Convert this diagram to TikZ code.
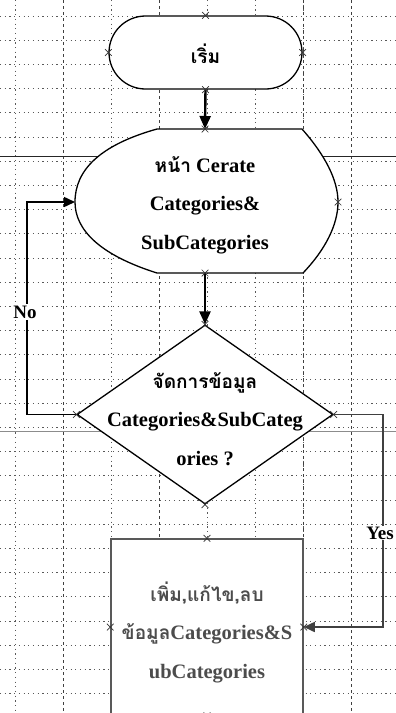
\documentclass[tikz,border=0pt]{standalone}
\usepackage{fontspec}
\setmainfont{Liberation Serif}
\newfontfamily\thaifont[Script=Thai,Scale=0.93]{Loma}
\usetikzlibrary{arrows.meta,shapes.geometric,shapes.misc}
\begin{document}
\begin{tikzpicture}[x=1pt,y=-1pt,
  txt/.style={font=\bfseries\fontsize{20.5}{38.5}\selectfont, align=center, inner sep=0pt},
  shapeline/.style={draw=black, line width=1.3pt},
  greyline/.style={draw=black!65, line width=1.5pt},
  xmark/.style={cross out, draw=black!80, minimum size=6pt, inner sep=0pt, line width=0.7pt},
  gridline/.style={black!65, line width=0.7pt, dash pattern=on 1.2pt off 3.5pt},
  majorgrid/.style={black!75, line width=0.8pt, dash pattern=on 3pt off 3pt},
  thickarrow/.style={line width=2.4pt, -{Triangle[length=13pt,width=11pt]}},
  looparrow/.style={line width=1.5pt, -{Triangle[length=11pt,width=10pt]}},
  lbl/.style={font=\bfseries\fontsize{19}{22}\selectfont, fill=white, inner sep=2pt}
]
\useasboundingbox (0,0) rectangle (396,713);
\clip (0,0) rectangle (396,713);
\fill[white] (0,0) rectangle (396,713);
% grid
\foreach \k in {0,2,4,5,6,8} {
  \draw[gridline] (15+48.1*\k,0) -- (15+48.1*\k,713);
}
\foreach \k in {1,3,6,7} {
  \draw[majorgrid] (15+48.1*\k,0) -- (15+48.1*\k,713);
}
\foreach \k in {0,...,29} {
  \draw[gridline] (0,16+24.2*\k) -- (396,16+24.2*\k);
}
% page break lines
\draw[black!85, line width=0.8pt] (0,156) -- (396,156);
\draw[black!45, line width=1pt] (0,431) -- (396,431);

% start terminator
\node[rounded rectangle, shapeline, fill=white, minimum width=193pt, minimum height=73pt, inner sep=0pt] (start) at (205.5,52.5) {};
\node[txt] (starttxt) at (205.5,54) {{\thaifont\bfseries เริ่ม}};

% display shape
\coordinate (dispT) at (205,129);
\coordinate (dispB) at (205,273);
\coordinate (dispL) at (75,202);
\coordinate (dispR) at (338,202);
\draw[shapeline, fill=white] (157,129) -- (302,129)
  .. controls (325,155) and (338,180) .. (dispR)
  .. controls (338,225) and (325,250) .. (303,273)
  -- (157,273)
  .. controls (100,255) and (75,230) .. (dispL)
  .. controls (75,170) and (100,145) .. (157,129) -- cycle;
\node[txt] (disptxt) at (205,205) {{\thaifont\bfseries หน้า} Cerate\\Categories\&\\SubCategories};

% decision
\node[diamond, shapeline, fill=white, minimum width=256pt, minimum height=179pt, inner sep=0pt] (dia) at (205,414.5) {};
\node[txt] (diatxt) at (205,419) {{\thaifont\bfseries จัดการข้อมูล}\\Categories\&SubCateg\\ories ?};

% process box
\node[rectangle, greyline, fill=white, minimum width=192pt, minimum height=176pt, inner sep=0pt] (box) at (207,627) {};
\node[txt, text=black!70] (boxtxt) at (207,632) {{\thaifont\bfseries เพิ่ม,แก้ไข,ลบ}\\{\thaifont\bfseries ข้อมูล}Categories\&S\\ubCategories};

% connectors
\draw[thickarrow] (start.south) -- (dispT);
\draw[thickarrow] (dispB) -- (dia.north);

\coordinate (noBend) at (27,414.5);
\draw[looparrow] (dia.west) -- (noBend) |- (dispL);
\node[lbl] (nolbl) at (25,312) {No};

\coordinate (yesBend) at (383,414.5);
\coordinate (yesBend2) at (383,627);
\draw[looparrow, black!75] (dia.east) -- (yesBend) -- (yesBend2) -- (box.east);
\node[lbl, anchor=east, inner sep=1pt] (yeslbl) at (395,533) {Yes};

% connection point markers
\node[xmark] (m1) at (start.north) {};
\node[xmark] (m2) at (start.west) {};
\node[xmark] (m3) at (start.east) {};
\node[xmark] (m4) at (start.south) {};
\node[xmark] (m5) at (dispT) {};
\node[xmark] (m6) at (dispR) {};
\node[xmark] (m7) at (dispB) {};
\node[xmark] (m8) at (dia.north) {};
\node[xmark] (m9) at (dia.west) {};
\node[xmark] (m10) at (dia.east) {};
\node[xmark] (m11) at (dia.south) {};
\node[xmark] (m12) at (box.north) {};
\node[xmark] (m13) at (box.west) {};
\node[xmark] (m14) at (box.east) {};
\node[xmark] (m15) at (box.south) {};
\end{tikzpicture}
\end{document}
